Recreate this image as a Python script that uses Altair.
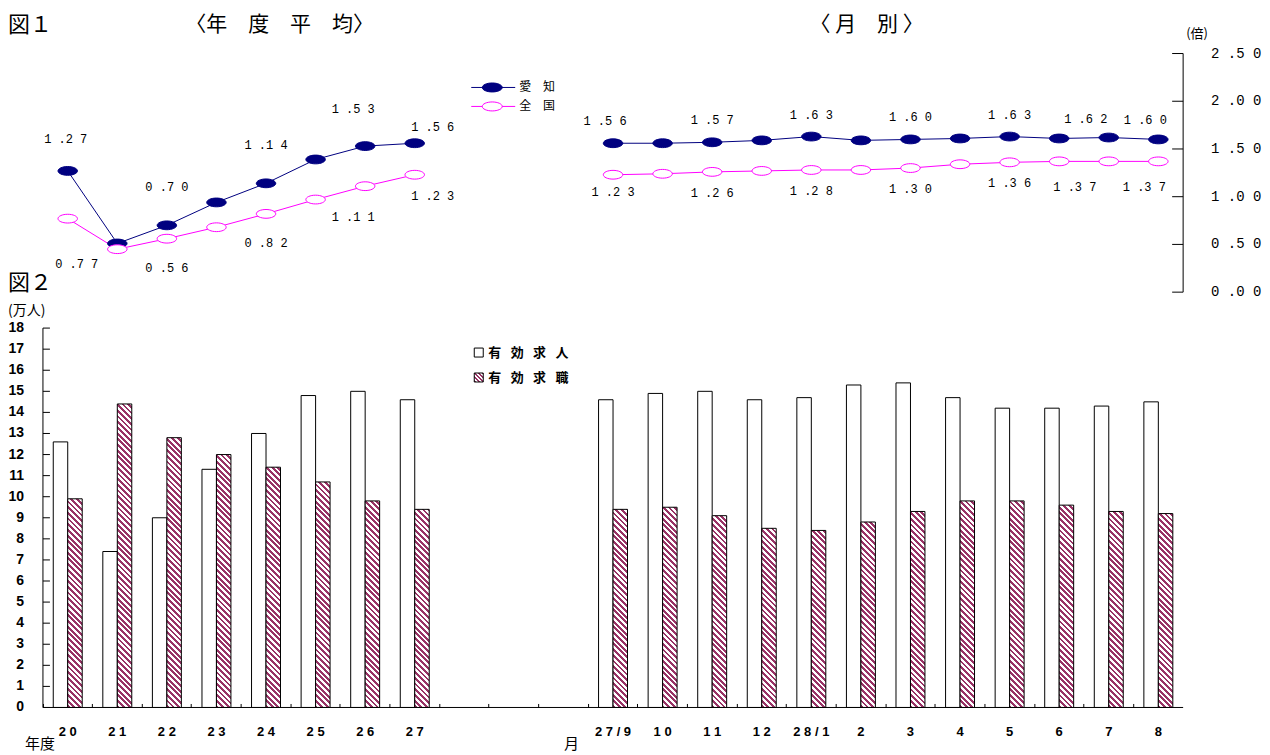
import math
import altair as alt
import pandas as pd

# ---------------- data ----------------
year_cats = ["20", "21", "22", "23", "24", "25", "26", "27"]
gap_cats = [" ", "  ", "   "]
month_cats = ["27/9", "10", "11", "12", "28/1", "2", "3", "4", "5", "6", "7", "8"]

# 有効求人倍率 (倍)
aichi_year = [1.27, 0.51, 0.70, 0.94, 1.14, 1.39, 1.53, 1.56]
zenkoku_year = [0.77, 0.45, 0.56, 0.68, 0.82, 0.97, 1.11, 1.23]
aichi_month = [1.56, 1.56, 1.57, 1.59, 1.63, 1.59, 1.60, 1.61, 1.63, 1.61, 1.62, 1.60]
zenkoku_month = [1.23, 1.24, 1.26, 1.27, 1.28, 1.28, 1.30, 1.34, 1.36, 1.37, 1.37, 1.37]

# 有効求人 / 有効求職 (万人)
offers_year = [12.6, 7.4, 9.0, 11.3, 13.0, 14.8, 15.0, 14.6]
seekers_year = [9.9, 14.4, 12.8, 12.0, 11.4, 10.7, 9.8, 9.4]
offers_month = [14.6, 14.9, 15.0, 14.6, 14.7, 15.3, 15.4, 14.7, 14.2, 14.2, 14.3, 14.5]
seekers_month = [9.4, 9.5, 9.1, 8.5, 8.4, 8.8, 9.3, 9.8, 9.8, 9.6, 9.3, 9.2]

# axis tick values
ratio_ticks = [0.0, 0.5, 1.0, 1.5, 2.0, 2.5]
count_ticks = [0, 1, 2, 3, 4, 5, 6, 7, 8, 9, 10, 11, 12, 13, 14, 15, 16, 17, 18]

series_names = ["愛知", "全国"]
kind_names = ["有効求人", "有効求職"]
period_names = ["年度", "月"]

# ---------------- layout / style ----------------
x_domain = year_cats + gap_cats + month_cats
W = 1142
H_TOP = 239
H_BOT = 380
GAP = 36
Y_MAX_TOP = 2.5
Y_MAX_BOT = 18
STEP = W / len(x_domain)
BAR_W = 14.5
OFFSET_PAD = (STEP / BAR_W - 2) / 2

NAVY = "#000080"
MAGENTA = "#ff00ff"
HATCH = "#993366"
CJK = "Noto Sans CJK JP"
MONO = "Liberation Mono"
SANS = "Liberation Sans"
ELLIPSE = "M-1,0A1,0.45,0,1,1,1,0A1,0.45,0,1,1,-1,0Z"
EN = "\u2002"
EM = "\u2003"

# label placement (dx, dy) by period / series / position among the labelled points
LABEL_OFFSETS = {
    ("年度", "愛知", "first"): (-2, -32), ("年度", "愛知", "mid"): (0, -38),
    ("年度", "愛知", "penult"): (-12, -37), ("年度", "愛知", "last"): (18, -16),
    ("年度", "全国", "first"): (9, 45), ("年度", "全国", "mid"): (0, 29),
    ("年度", "全国", "penult"): (-12, 31), ("年度", "全国", "last"): (18, 21),
    ("月", "愛知", "first"): (-8, -22), ("月", "愛知", "mid"): (0, -22),
    ("月", "愛知", "penult"): (-23, -19), ("月", "愛知", "last"): (-13, -19),
    ("月", "全国", "first"): (0, 17), ("月", "全国", "mid"): (0, 21),
    ("月", "全国", "penult"): (-34, 26), ("月", "全国", "last"): (-14, 26),
}


def hatch(w, h, period=5.7, frac=0.5):
    """diagonal stripes as a hard-stop linear gradient in bbox units"""
    r = h / w
    k = (1 + r) / (1 + r * r)
    L = w + h
    stops = []
    j = 0
    while j * period < L:
        a = j * period / L
        b = min((j * period + period * frac) / L, 1.0)
        c = min((j + 1) * period / L, 1.0)
        stops += [
            {"offset": round(a, 5), "color": HATCH},
            {"offset": round(b, 5), "color": HATCH},
            {"offset": round(b, 5), "color": "#ffffff"},
            {"offset": round(c, 5), "color": "#ffffff"},
        ]
        j += 1
    return {"gradient": "linear", "x1": 0, "y1": 1, "x2": round(k, 6),
            "y2": round(1 - k * r, 6), "stops": stops}


def spaced(v):
    s = f"{v:.2f}"
    return f"{s[0]} .{s[2]} {s[3]}"


blank = alt.Data(values=[{}])


def ann(text, x, y, size=13, font=CJK, align="left", weight="normal"):
    return alt.Chart(blank).mark_text(
        text=text, align=align, baseline="middle", fontSize=size, font=font,
        fontWeight=weight, color="black"
    ).encode(x=alt.value(x), y=alt.value(y))


# ---------------- top: ratio lines ----------------
line_rows = []
for series, yv, mv in [(series_names[0], aichi_year, aichi_month),
                       (series_names[1], zenkoku_year, zenkoku_month)]:
    for period, cats, vals in [(period_names[0], year_cats, yv), (period_names[1], month_cats, mv)]:
        n = len(vals)
        for i, (c, v) in enumerate(zip(cats, vals)):
            if i == 0:
                pos = "first"
            elif i == n - 1:
                pos = "last"
            elif i == n - 2:
                pos = "penult"
            else:
                pos = "mid"
            line_rows.append({
                "x": c, "idx": x_domain.index(c), "series": series, "period": period,
                "value": v, "label": spaced(v), "pos": pos,
                "show": bool(i % 2 == 0 or i == n - 1),
            })
lines_df = pd.DataFrame(line_rows)

x_top = alt.X("x:N", scale=alt.Scale(domain=x_domain, paddingInner=0, paddingOuter=0), axis=None)
top_scale = alt.Scale(domain=[0, Y_MAX_TOP], nice=False, zero=True)
y_top = alt.Y("value:Q", scale=top_scale, axis=None)
base_top = alt.Chart(lines_df).encode(x=x_top, y=y_top)

lines = base_top.mark_line(strokeWidth=1).encode(
    color=alt.Color("series:N", scale=alt.Scale(domain=series_names, range=[NAVY, MAGENTA]), legend=None),
    detail="period:N",
    order="idx:Q",
)
points = base_top.mark_point(shape=ELLIPSE, size=380, filled=True, opacity=1, strokeWidth=1).encode(
    fill=alt.Fill("series:N", scale=alt.Scale(domain=series_names, range=[NAVY, "#ffffff"]), legend=None),
    stroke=alt.Stroke("series:N", scale=alt.Scale(domain=series_names, range=[NAVY, MAGENTA]), legend=None),
)

labels = []
for (period, series, pos), (dx, dy) in LABEL_OFFSETS.items():
    labels.append(
        base_top.transform_filter(
            (alt.datum.series == series) & (alt.datum.period == period)
            & (alt.datum.pos == pos) & alt.datum.show
        ).mark_text(dx=dx, dy=dy, font=MONO, fontSize=12, color="black").encode(text="label:N")
    )

# right-hand ratio axis (drawn from the tick list)
ratio_df = pd.DataFrame({"v": ratio_ticks, "t": [spaced(v) for v in ratio_ticks]})
ratio_axis = [
    alt.Chart(blank).mark_rule(color="black", strokeWidth=1).encode(
        x=alt.value(W), y=alt.value(0), y2=alt.value(H_TOP)),
    alt.Chart(ratio_df).mark_rule(color="black", strokeWidth=1).encode(
        x=alt.value(W - 11), x2=alt.value(W), y=alt.Y("v:Q", scale=top_scale, axis=None)),
    alt.Chart(ratio_df).mark_text(align="left", baseline="middle", font=MONO, fontSize=14,
                                  color="black").encode(
        x=alt.value(W + 28), y=alt.Y("v:Q", scale=top_scale, axis=None), text="t:N"),
]

top_legend = [
    alt.Chart(blank).mark_rule(color=NAVY, strokeWidth=1).encode(
        x=alt.value(429), x2=alt.value(473), y=alt.value(34)),
    alt.Chart(blank).mark_point(shape=ELLIPSE, size=400, filled=True, opacity=1, fill=NAVY,
                                stroke=NAVY, strokeWidth=1).encode(x=alt.value(450), y=alt.value(34)),
    ann("愛　知", 477, 34, size=12),
    alt.Chart(blank).mark_rule(color=MAGENTA, strokeWidth=1).encode(
        x=alt.value(429), x2=alt.value(473), y=alt.value(53)),
    alt.Chart(blank).mark_point(shape=ELLIPSE, size=400, filled=True, opacity=1, fill="#ffffff",
                                stroke=MAGENTA, strokeWidth=1).encode(x=alt.value(450), y=alt.value(53)),
    ann("全　国", 477, 53, size=12),
]

top_text = [
    ann("図１", -35, -29, size=22),
    ann(f"〈年{EM}度{EM}平{EM}均〉", 237, -29, size=21, align="center"),
    ann(f"〈 月{EM}別 〉", 825, -29, size=21, align="center"),
    ann("(倍)", 1156, -20, size=13, align="center"),
]

top = alt.layer(lines, points, *labels, *ratio_axis, *top_legend, *top_text).properties(
    width=W, height=H_TOP
)

# ---------------- bottom: bars ----------------
bar_rows = []
for cats, offers, seekers in [(year_cats, offers_year, seekers_year),
                              (month_cats, offers_month, seekers_month)]:
    for c, o, s in zip(cats, offers, seekers):
        bar_rows.append({"x": c, "kind": kind_names[0], "value": o, "paint": "#ffffff"})
        bar_rows.append({"x": c, "kind": kind_names[1], "value": s,
                         "paint": hatch(BAR_W, s * H_BOT / Y_MAX_BOT)})

x_bot = alt.X(
    "x:N",
    scale=alt.Scale(domain=x_domain, paddingInner=0, paddingOuter=0),
    axis=alt.Axis(
        title=None, labelAngle=0, bandPosition=0, tickSize=4, offset=-4, domain=False,
        labelPadding=18, grid=False, tickColor="black", labelColor="black",
        labelFont=SANS, labelFontSize=13, labelFontWeight="bold", labelOverlap=False,
        labelExpr="join(split(datum.label, ''), ' ')",
    ),
)
bot_scale = alt.Scale(domain=[0, Y_MAX_BOT], nice=False)
y_bot = alt.Y("value:Q", scale=bot_scale, axis=None)

bars = alt.Chart(alt.Data(values=bar_rows)).mark_bar(stroke="black", strokeWidth=1).encode(
    x=x_bot,
    xOffset=alt.XOffset("kind:N", scale=alt.Scale(domain=kind_names, paddingInner=0,
                                                  paddingOuter=OFFSET_PAD)),
    y=y_bot,
    fill=alt.Fill("paint:N", scale=None),
)

count_df = pd.DataFrame({"v": count_ticks})
count_axis = [
    alt.Chart(blank).mark_rule(color="black", strokeWidth=1).encode(
        x=alt.value(0), y=alt.value(0), y2=alt.value(H_BOT)),
    alt.Chart(blank).mark_rule(color="black", strokeWidth=1).encode(
        x=alt.value(0), x2=alt.value(W), y=alt.value(H_BOT)),
    alt.Chart(count_df).mark_rule(color="black", strokeWidth=1).encode(
        x=alt.value(0), x2=alt.value(7), y=alt.Y("v:Q", scale=bot_scale, axis=None)),
    alt.Chart(count_df).mark_text(align="right", baseline="middle", font=SANS, fontSize=14,
                                  fontWeight="bold", color="black").encode(
        x=alt.value(-19), y=alt.Y("v:Q", scale=bot_scale, axis=None), text=alt.Text("v:Q", format="d")),
]


def legend_txt(s):
    return (EN + " ").join(list(s))


bot_legend = [
    alt.Chart(blank).mark_rect(fill="#ffffff", stroke="black", strokeWidth=1).encode(
        x=alt.value(432), x2=alt.value(441), y=alt.value(20), y2=alt.value(29)),
    ann(legend_txt(kind_names[0]), 446, 25, size=13, weight="bold"),
    alt.Chart(blank).mark_rect(fill=hatch(9, 9, period=4.0), stroke="black", strokeWidth=1).encode(
        x=alt.value(432), x2=alt.value(441), y=alt.value(45), y2=alt.value(54)),
    ann(legend_txt(kind_names[1]), 446, 50, size=13, weight="bold"),
]

bot_text = [
    ann("図２", -35, -45, size=22),
    ann("(万人)", -35, -17, size=14),
    ann("年度", -18, 417, size=15),
    ann("月", 522, 417, size=15),
]

bottom = alt.layer(bars, *count_axis, *bot_legend, *bot_text).properties(
    width=W, height=H_BOT
)

chart = alt.vconcat(top, bottom, spacing=GAP, bounds="flush").properties(
    padding={"left": 0, "top": 5, "right": 0, "bottom": 0}
).configure_view(stroke=None)

chart.save("out.html", embed_options={"renderer": "svg", "actions": False})
